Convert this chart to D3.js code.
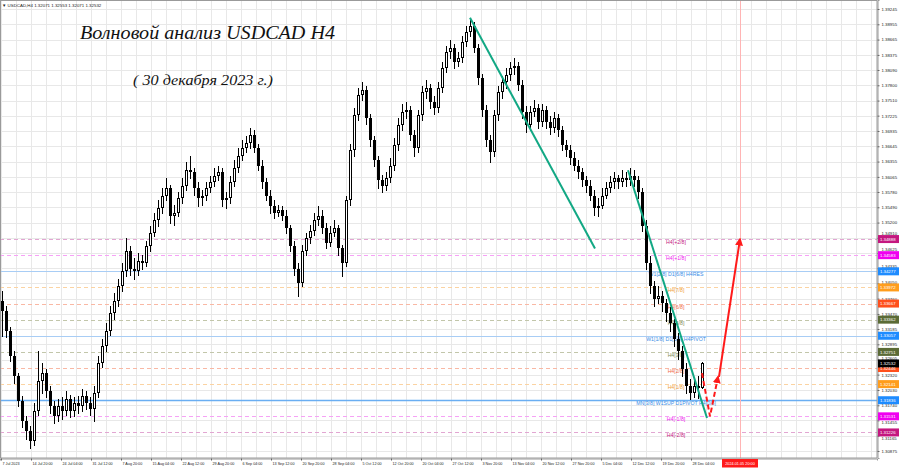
<!DOCTYPE html>
<html><head><meta charset="utf-8">
<script src="https://cdn.jsdelivr.net/npm/d3@7"></script>
<style>body{margin:0;background:#fff}svg{display:block}</style>
</head><body><svg id="c" width="900" height="468"></svg>
<script>
// ---------- DATA ----------
const openP = [1.3372,1.3353,1.3315,1.3267,1.3230,1.3182,1.3144,1.3125,1.3106,1.3163,
1.3220,1.3235,1.3201,1.3173,1.3154,1.3173,1.3163,1.3186,1.3163,1.3178,
1.3173,1.3192,1.3178,1.3167,1.3197,1.3254,1.3286,1.3315,1.3349,1.3372,
1.3400,1.3429,1.3467,1.3433,1.3429,1.3448,1.3444,1.3476,1.3501,1.3524,
1.3547,1.3571,1.3585,1.3533,1.3539,1.3566,1.3590,1.3619,1.3615,1.3585,
1.3566,1.3570,1.3585,1.3596,1.3609,1.3615,1.3562,1.3566,1.3596,1.3623,
1.3647,1.3661,1.3670,1.3685,1.3661,1.3628,1.3596,1.3571,1.3552,1.3539,
1.3543,1.3533,1.3509,1.3476,1.3433,1.3406,1.3467,1.3490,1.3505,1.3524,
1.3533,1.3509,1.3482,1.3501,1.3509,1.3471,1.3444,1.3562,1.3657,1.3723,
1.3761,1.3771,1.3718,1.3676,1.3638,1.3600,1.3590,1.3604,1.3628,1.3666,
1.3704,1.3729,1.3733,1.3685,1.3661,1.3723,1.3767,1.3775,1.3748,1.3737,
1.3775,1.3813,1.3843,1.3851,1.3824,1.3832,1.3862,1.3881,1.3893,1.3851,
1.3794,1.3733,1.3676,1.3653,1.3723,1.3767,1.3786,1.3799,1.3813,1.3817,
1.3780,1.3729,1.3704,1.3729,1.3737,1.3710,1.3733,1.3710,1.3699,1.3718,
1.3695,1.3666,1.3657,1.3642,1.3628,1.3615,1.3600,1.3590,1.3571,1.3547,
1.3552,1.3571,1.3585,1.3596,1.3604,1.3596,1.3604,1.3600,1.3609,1.3600,
1.3577,1.3514,1.3444,1.3400,1.3376,1.3381,1.3368,1.3349,1.3330,1.3300,
1.3277,1.3243,1.3210,1.3197,1.3210,1.32071];
const highP = [1.3391,1.3362,1.3323,1.3277,1.3235,1.3192,1.3154,1.3135,1.3178,1.3277,
1.3254,1.3243,1.3210,1.3182,1.3186,1.3190,1.3201,1.3193,1.3190,1.3192,
1.3205,1.3201,1.3190,1.3210,1.3267,1.3300,1.3330,1.3362,1.3387,1.3414,
1.3444,1.3490,1.3475,1.3452,1.3463,1.3459,1.3486,1.3514,1.3539,1.3562,
1.3585,1.3604,1.3592,1.3554,1.3577,1.3604,1.3634,1.3647,1.3623,1.3596,
1.3581,1.3596,1.3609,1.3623,1.3628,1.3623,1.3577,1.3608,1.3638,1.3661,
1.3676,1.3684,1.3699,1.3695,1.3668,1.3638,1.3604,1.3581,1.3562,1.3554,
1.3552,1.3543,1.3516,1.3486,1.3444,1.3478,1.3501,1.3516,1.3539,1.3551,
1.3543,1.3520,1.3513,1.3524,1.3516,1.3478,1.3571,1.3668,1.3737,1.3775,
1.3786,1.3779,1.3725,1.3684,1.3647,1.3611,1.3615,1.3642,1.3680,1.3718,
1.3744,1.3748,1.3741,1.3695,1.3733,1.3779,1.3790,1.3782,1.3760,1.3786,
1.3824,1.3855,1.3866,1.3858,1.3843,1.3874,1.3893,1.3906,1.3900,1.3858,
1.3801,1.3742,1.3685,1.3733,1.3779,1.3798,1.3813,1.3824,1.3832,1.3824,
1.3790,1.3741,1.3741,1.3752,1.3744,1.3744,1.3741,1.3722,1.3729,1.3725,
1.3703,1.3676,1.3666,1.3653,1.3638,1.3623,1.3608,1.3600,1.3581,1.3566,
1.3585,1.3596,1.3608,1.3615,1.3611,1.3619,1.3615,1.3623,1.3619,1.3608,
1.3585,1.3524,1.3456,1.3410,1.3399,1.3391,1.3376,1.3361,1.3338,1.3311,
1.3286,1.3254,1.3224,1.3224,1.3230,1.32553];
const lowP = [1.3306,1.3304,1.3258,1.3216,1.3173,1.3133,1.3110,1.3093,1.3098,1.3155,
1.3197,1.3190,1.3159,1.3140,1.3144,1.3148,1.3155,1.3152,1.3154,1.3159,
1.3163,1.3167,1.3155,1.3144,1.3190,1.3247,1.3277,1.3307,1.3338,1.3362,
1.3391,1.3418,1.3421,1.3414,1.3420,1.3433,1.3437,1.3467,1.3494,1.3514,
1.3539,1.3562,1.3520,1.3516,1.3532,1.3558,1.3581,1.3604,1.3573,1.3552,
1.3554,1.3562,1.3577,1.3589,1.3600,1.3552,1.3547,1.3558,1.3589,1.3615,
1.3638,1.3653,1.3661,1.3653,1.3619,1.3585,1.3562,1.3539,1.3528,1.3532,
1.3524,1.3501,1.3467,1.3420,1.3381,1.3399,1.3459,1.3482,1.3497,1.3516,
1.3501,1.3471,1.3475,1.3494,1.3459,1.3418,1.3437,1.3554,1.3646,1.3714,
1.3752,1.3706,1.3665,1.3627,1.3585,1.3577,1.3581,1.3596,1.3619,1.3657,
1.3695,1.3718,1.3676,1.3647,1.3653,1.3714,1.3756,1.3737,1.3725,1.3729,
1.3767,1.3805,1.3832,1.3813,1.3817,1.3824,1.3855,1.3874,1.3843,1.3782,
1.3722,1.3665,1.3634,1.3646,1.3714,1.3756,1.3775,1.3790,1.3801,1.3771,
1.3718,1.3691,1.3695,1.3722,1.3699,1.3703,1.3699,1.3687,1.3691,1.3684,
1.3657,1.3646,1.3630,1.3619,1.3604,1.3589,1.3577,1.3562,1.3535,1.3532,
1.3547,1.3566,1.3577,1.3585,1.3585,1.3589,1.3589,1.3592,1.3589,1.3566,
1.3505,1.3433,1.3387,1.3362,1.3368,1.3353,1.3334,1.3315,1.3286,1.3262,
1.3230,1.3197,1.3186,1.3190,1.3188,1.32071];
const closeP = [1.3353,1.3315,1.3267,1.3230,1.3182,1.3144,1.3125,1.3106,1.3163,1.3220,
1.3235,1.3201,1.3173,1.3154,1.3173,1.3163,1.3186,1.3163,1.3178,1.3173,
1.3192,1.3178,1.3167,1.3197,1.3254,1.3286,1.3315,1.3349,1.3372,1.3400,
1.3429,1.3467,1.3433,1.3429,1.3448,1.3444,1.3476,1.3501,1.3524,1.3547,
1.3571,1.3585,1.3533,1.3539,1.3566,1.3590,1.3619,1.3615,1.3585,1.3566,
1.3570,1.3585,1.3596,1.3609,1.3615,1.3562,1.3566,1.3596,1.3623,1.3647,
1.3661,1.3670,1.3685,1.3661,1.3628,1.3596,1.3571,1.3552,1.3539,1.3543,
1.3533,1.3509,1.3476,1.3433,1.3406,1.3467,1.3490,1.3505,1.3524,1.3533,
1.3509,1.3482,1.3501,1.3509,1.3471,1.3444,1.3562,1.3657,1.3723,1.3761,
1.3771,1.3718,1.3676,1.3638,1.3600,1.3590,1.3604,1.3628,1.3666,1.3704,
1.3729,1.3733,1.3685,1.3661,1.3723,1.3767,1.3775,1.3748,1.3737,1.3775,
1.3813,1.3843,1.3851,1.3824,1.3832,1.3862,1.3881,1.3893,1.3851,1.3794,
1.3733,1.3676,1.3653,1.3723,1.3767,1.3786,1.3799,1.3813,1.3817,1.3780,
1.3729,1.3704,1.3729,1.3737,1.3710,1.3733,1.3710,1.3699,1.3718,1.3695,
1.3666,1.3657,1.3642,1.3628,1.3615,1.3600,1.3590,1.3571,1.3547,1.3552,
1.3571,1.3585,1.3596,1.3604,1.3596,1.3604,1.3600,1.3609,1.3600,1.3577,
1.3514,1.3444,1.3400,1.3376,1.3381,1.3368,1.3349,1.3330,1.3300,1.3277,
1.3243,1.3210,1.3197,1.3210,1.3207,1.32532];

const priceTicks = [1.39245,1.38955,1.38665,1.38375,1.38090,1.37800,1.37510,1.37225,1.36935,1.36645,
1.36355,1.36065,1.35780,1.35490,1.35200,1.34910,1.34625,1.34335,1.34050,1.33760,
1.33470,1.33185,1.32895,1.32605,1.32320,1.32030,1.31740,1.31455,1.31165,1.30875];

const timeLabels = ["7 Jul 2023","14 Jul 20:00","24 Jul 04:00","31 Jul 12:00","7 Aug 20:00","15 Aug 04:00",
"22 Aug 12:00","29 Aug 20:00","6 Sep 04:00","13 Sep 12:00","20 Sep 20:00","28 Sep 04:00","5 Oct 12:00",
"12 Oct 20:00","20 Oct 04:00","27 Oct 12:00","3 Nov 20:00","13 Nov 04:00","20 Nov 12:00","27 Nov 20:00",
"5 Dec 04:00","12 Dec 12:00","19 Dec 20:00","28 Dec 04:00"];
const timeLabelIdx = [-0.25,7.25,14.75,22.25,29.75,37.25,44.75,52.25,59.75,67.25,74.75,82.25,89.75,
97.25,104.75,112.25,119.75,127.25,134.75,142.25,149.75,157.25,164.75,172.25];
const futureLabel = "2024.01.05 20:00";
const futureIdx = 184.5;

const levelNames = ["H4[+2/8]","H4[+1/8]","W1[2/8] D1[6/8] H4RES","H4[7/8]","H4[6/8]","H4[5/8]",
"W1[1/8] D1[5/8] H4PIVOT","H4[3/8]","H4[2/8]","H4[1/8]","MN[3/8] W1SUP D1PIVOT H4[0/8]","H4[-1/8]","H4[-2/8]"];
const levelPrices = [1.34888,1.34583,1.34277,1.33972,1.33667,1.33362,1.33057,1.32751,1.32446,1.32141,1.31836,1.31531,1.31226];
const levelKinds = ["e2","e1","maj","q71","q62","q53","maj","q53","q62","q71","maj0","e1","e2"];
const currentPrice = 1.32532;

const trendA = [{i:117, p:1.3908},{i:148.25, p:1.3471}];
const trendB = [{i:156.5, p:1.3619},{i:176.25, p:1.3150}];
const forecastDashed = [{i:175, p:1.3235},{i:177, p:1.3153},{i:179, p:1.3228}];
const forecastSolid = [{i:179.25, p:1.3228},{i:184.5, p:1.34888}];

const headerText = "USDCAD,H4  1.32071 1.32553 1.32071 1.32532";
const titleText = "Волновой анализ USDCAD H4";
const subtitleText = "( 30 декабря 2023 г.)";

// ---------- STYLES ----------
const levelStyle = {
  e2:  {line:"#e2a6d2", dash:"4,3", w:1,   tag:"#c4177f", text:"#c4177f"},
  e1:  {line:"#f6a2f6", dash:"4,3", w:1,   tag:"#f000f0", text:"#ee22ee"},
  maj: {line:"#a8cdf5", dash:null,  w:1,   tag:"#1e8cff", text:"#3a8de6"},
  maj0:{line:"#6aaef2", dash:null,  w:1.3, tag:"#1e8cff", text:"#3a8de6"},
  q71: {line:"#fbd3a2", dash:"4,3", w:1,   tag:"#ff9d1c", text:"#f0a040"},
  q62: {line:"#f9b8a4", dash:"4,3", w:1,   tag:"#ff4f1c", text:"#f06a4a"},
  q53: {line:"#c2c6aa", dash:"4,3", w:1,   tag:"#5b6b36", text:"#7d8b58"}
};
const FONT = "'Liberation Sans', Arial, sans-serif";

// ---------- CHART ----------
const svg = d3.select("#c");
const plotR = 877, plotB = 458;
const x = d3.scaleLinear().domain([-0.5, 218.75]).range([0, plotR]);
const y = d3.scaleLinear().domain([1.30742, 1.39415]).range([plotB, 0]);
const px = v => Math.round(v) + 0.5;

svg.append("rect").attr("width",900).attr("height",468).attr("fill","#fff");

// grid
const grid = svg.append("g").attr("stroke","#e8e8e8").attr("stroke-width",1);
grid.selectAll("line.h").data(priceTicks).join("line")
  .attr("x1",0).attr("x2",plotR).attr("y1",d=>px(y(d))).attr("y2",d=>px(y(d)));
const vGrid = timeLabelIdx.flatMap(v=>[v, v+3.75]).concat([179.75,183.5,187.25,191,194.75,198.5,202.25,206,209.75,213.5,217.25]);
grid.selectAll("line.v").data(vGrid).join("line")
  .attr("y1",0).attr("y2",plotB).attr("x1",d=>px(x(d))).attr("x2",d=>px(x(d)));

// level lines
const levels = levelPrices.map((p,k)=>({p, name:levelNames[k], st:levelStyle[levelKinds[k]]}));
svg.append("g").selectAll("line").data(levels).join("line")
  .attr("x1",0).attr("x2",plotR).attr("y1",d=>px(y(d.p))).attr("y2",d=>px(y(d.p)))
  .attr("stroke",d=>d.st.line).attr("stroke-width",d=>d.st.w)
  .attr("stroke-dasharray",d=>d.st.dash);

// future time marker
svg.append("line").attr("x1",px(x(futureIdx))).attr("x2",px(x(futureIdx)))
  .attr("y1",0).attr("y2",plotB).attr("stroke","#ffb4b4").attr("stroke-width",1);

// level texts
svg.append("g").selectAll("text").data(levels).join("text")
  .attr("x",x(168.5)).attr("y",d=>y(d.p)+5)
  .attr("text-anchor","middle").attr("font-family",FONT).attr("font-size",5.2)
  .attr("fill",d=>d.st.text).text(d=>d.name);

// candles
const bars = openP.map((o,i)=>({i,o,h:highP[i],l:lowP[i],c:closeP[i]}));
const cg = svg.append("g").attr("shape-rendering","crispEdges");
cg.selectAll("line").data(bars).join("line")
  .attr("x1",d=>x(d.i)+0.5).attr("x2",d=>x(d.i)+0.5)
  .attr("y1",d=>Math.round(y(d.h))).attr("y2",d=>Math.round(y(d.l))+1)
  .attr("stroke","#000").attr("stroke-width",1);
cg.selectAll("rect.bear").data(bars.filter(d=>d.c<d.o)).join("rect")
  .attr("x",d=>x(d.i)-1).attr("width",3)
  .attr("y",d=>Math.round(y(d.o))).attr("height",d=>Math.max(1,Math.round(y(d.c))-Math.round(y(d.o))))
  .attr("fill","#000");
cg.selectAll("rect.bull").data(bars.filter(d=>d.c>=d.o)).join("rect")
  .attr("x",d=>x(d.i)-0.5).attr("width",2)
  .attr("y",d=>Math.round(y(d.c))+0.5).attr("height",d=>Math.max(0.5,Math.round(y(d.o))-Math.round(y(d.c))-1))
  .attr("fill","#fff").attr("stroke","#000").attr("stroke-width",1);

// trend lines
const line = d3.line().x(d=>x(d.i)).y(d=>y(d.p));
[trendA, trendB].forEach(t=>svg.append("path").attr("d",line(t))
  .attr("fill","none").attr("stroke","#12a884").attr("stroke-width",2));

// arrows
const defs = svg.append("defs");
defs.append("marker").attr("id","ah").attr("viewBox","0 0 10 10").attr("refX",8).attr("refY",5)
  .attr("markerWidth",4).attr("markerHeight",4).attr("orient","auto")
  .append("path").attr("d","M0,0 L10,5 L0,10 z").attr("fill","#ff1a1a");
svg.append("path").attr("d",line(forecastDashed)).attr("fill","none")
  .attr("stroke","#ff1a1a").attr("stroke-width",2).attr("stroke-dasharray","5,3")
  .attr("marker-end","url(#ah)");
svg.append("path").attr("d",line(forecastSolid)).attr("fill","none")
  .attr("stroke","#ff1a1a").attr("stroke-width",2).attr("marker-end","url(#ah)");

// frame
svg.append("rect").attr("x",0.5).attr("y",0.5).attr("width",plotR-0.5).attr("height",plotB-0.5)
  .attr("fill","none").attr("stroke","#9a9a9a");

// price tags (positions)
const tags = levels.map(d=>({p:d.p, col:d.st.tag})).concat([{p:currentPrice, col:"#000"}]);
const TAG_H = 8;

// axes
const yAxis = d3.axisRight(y).tickValues(priceTicks).tickFormat(d3.format(".5f")).tickSize(2).tickPadding(2);
const ya = svg.append("g").attr("transform",`translate(${plotR+0.5},0)`).call(yAxis);
ya.select(".domain").attr("stroke","#9a9a9a");
ya.selectAll(".tick line").attr("stroke","#666");
ya.selectAll("text").attr("font-family",FONT).attr("font-size",4.3).attr("fill","#222")
  .attr("dy", d => {
    const ty = y(d);
    let best = null;
    tags.forEach(t => { const dd = y(t.p) - ty; if (best === null || Math.abs(dd) < Math.abs(best)) best = dd; });
    if (best !== null && Math.abs(best) < 4.5) {
      // nudge the tick label clear of the tag box, as it peeks out in the reference
      return best > 0 ? (best - TAG_H/2 - 0.3) + "px" : (best + TAG_H/2 + 3.4) + "px";
    }
    return "0.32em";
  });

const xAxis = d3.axisBottom(x).tickValues(timeLabelIdx).tickFormat((d,k)=>timeLabels[k]).tickSize(2).tickPadding(1.5);
const xa = svg.append("g").attr("transform",`translate(0,${plotB+0.5})`).call(xAxis);
xa.select(".domain").attr("stroke","#9a9a9a");
xa.selectAll(".tick line").attr("stroke","#666");
xa.selectAll("text").attr("font-family",FONT).attr("font-size",3.7).attr("fill","#222")
  .attr("text-anchor","start").attr("dx",1);

// future label on time axis
const fx = x(futureIdx);
svg.append("rect").attr("x",fx-18).attr("y",plotB+1).attr("width",36).attr("height",8.5).attr("fill","#ff1a1a");
svg.append("text").attr("x",fx).attr("y",plotB+7).attr("text-anchor","middle")
  .attr("font-family",FONT).attr("font-size",3.8).attr("fill","#fff").text(futureLabel);

// price tags
const tg = svg.append("g");
tg.selectAll("rect").data(tags).join("rect")
  .attr("x",plotR+1).attr("y",d=>y(d.p)-TAG_H/2).attr("width",21).attr("height",TAG_H).attr("fill",d=>d.col);
tg.selectAll("text").data(tags).join("text")
  .attr("x",plotR+3).attr("y",d=>y(d.p)+1.6).attr("font-family",FONT).attr("font-size",4.3)
  .attr("fill","#fff").text(d=>d3.format(".5f")(d.p));

// header
svg.append("text").attr("x",2).attr("y",7).attr("font-family",FONT).attr("font-size",4.4).attr("fill","#222")
  .text("\u25BC " + headerText);

// titles
svg.append("text").attr("x",80).attr("y",39).attr("font-family","'Liberation Serif', 'DejaVu Serif', serif")
  .attr("font-style","italic").attr("font-size",19).attr("fill","#111")
  .attr("textLength",255).attr("lengthAdjust","spacingAndGlyphs").text(titleText);
svg.append("text").attr("x",133).attr("y",85).attr("font-family","'Liberation Serif', 'DejaVu Serif', serif")
  .attr("font-style","italic").attr("font-size",15).attr("fill","#111")
  .attr("textLength",140).attr("lengthAdjust","spacingAndGlyphs").text(subtitleText);
</script>
</body></html>
